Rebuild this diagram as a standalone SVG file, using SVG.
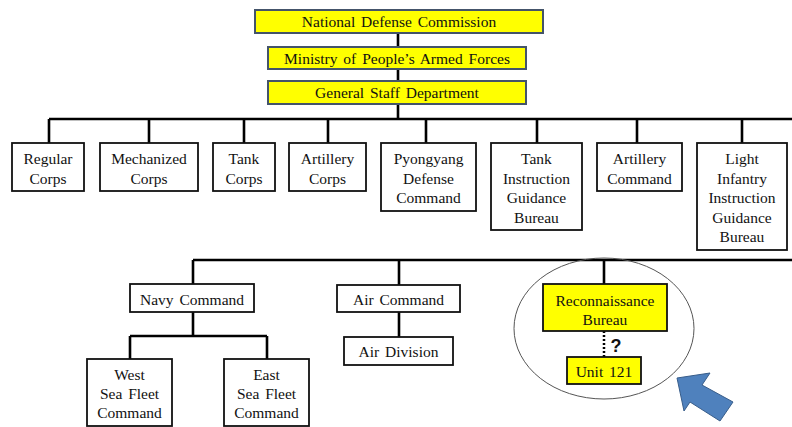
<svg xmlns="http://www.w3.org/2000/svg" width="792" height="427" viewBox="0 0 792 427">
<style>
.box{fill:#fff;stroke:#111;stroke-width:1.8}
.ybox{fill:#ffff00;stroke:#44546a;stroke-width:2}
.ybox2{fill:#ffff00;stroke:#111;stroke-width:1.8}
.ln{stroke:#000;stroke-width:2.6;fill:none}
</style>
<g id="connectors">
<path class="ln" d="M398 33V47M398 69V81M398 104V119M49 119H792M49 119V143M149 119V143M244 119V143M328 119V143M426 119V143M537 119V143M637 119V143M742 119V143"/>
<path class="ln" d="M193 260H792M193 260V284M399 260V285M604 260V284"/>
<path class="ln" d="M193 312V336M130 336H267M130 336V359M267 336V359M399 312V337"/>
<path d="M604 331V357" stroke="#000" stroke-width="2.5" stroke-dasharray="2,2"/>
</g>
<ellipse cx="604" cy="328.5" rx="90" ry="70.5" fill="none" stroke="#555" stroke-width="1"/>
<g font-family="Liberation Serif" font-size="15.5" fill="#111" text-anchor="middle" word-spacing="2">
<g id="ndc"><rect class="ybox" x="255" y="10" width="288" height="23"/><text x="399" y="27">National Defense Commission</text></g>
<g id="mpaf"><rect class="ybox" x="268" y="47" width="258" height="22"/><text x="397" y="63.5">Ministry of People’s Armed Forces</text></g>
<g id="gsd"><rect class="ybox" x="268" y="81" width="258" height="23"/><text x="397" y="98">General Staff Department</text></g>
<g id="regular"><rect class="box" x="12" y="143" width="72" height="48"/><text x="48" y="164">Regular</text><text x="48" y="183.5">Corps</text></g>
<g id="mechanized"><rect class="box" x="100" y="143" width="98" height="48"/><text x="149" y="164">Mechanized</text><text x="149" y="183.5">Corps</text></g>
<g id="tankcorps"><rect class="box" x="213" y="143" width="62" height="48"/><text x="244" y="164">Tank</text><text x="244" y="183.5">Corps</text></g>
<g id="artcorps"><rect class="box" x="289" y="143" width="77" height="48"/><text x="327.5" y="164">Artillery</text><text x="327.5" y="183.5">Corps</text></g>
<g id="pyongyang"><rect class="box" x="381" y="143" width="95" height="68"/><text x="428.5" y="164">Pyongyang</text><text x="428.5" y="183.5">Defense</text><text x="428.5" y="203">Command</text></g>
<g id="tigb"><rect class="box" x="491" y="143" width="91" height="87"/><text x="536.5" y="164">Tank</text><text x="536.5" y="183.5">Instruction</text><text x="536.5" y="203">Guidance</text><text x="536.5" y="222.5">Bureau</text></g>
<g id="artcmd"><rect class="box" x="597" y="143" width="85" height="48"/><text x="639.5" y="164">Artillery</text><text x="639.5" y="183.5">Command</text></g>
<g id="ligb"><rect class="box" x="697" y="143" width="90" height="107"/><text x="742" y="164">Light</text><text x="742" y="183.5">Infantry</text><text x="742" y="203">Instruction</text><text x="742" y="222.5">Guidance</text><text x="742" y="242">Bureau</text></g>
<g id="navy"><rect class="box" x="130" y="284" width="124" height="28"/><text x="192" y="304.5">Navy Command</text></g>
<g id="west"><rect class="box" x="87" y="359" width="85" height="67"/><text x="129.5" y="380">West</text><text x="129.5" y="399">Sea Fleet</text><text x="129.5" y="418">Command</text></g>
<g id="east"><rect class="box" x="224" y="359" width="85" height="67"/><text x="266.5" y="380">East</text><text x="266.5" y="399">Sea Fleet</text><text x="266.5" y="418">Command</text></g>
<g id="air"><rect class="box" x="337" y="285" width="123" height="27"/><text x="398.5" y="304.5">Air Command</text></g>
<g id="airdiv"><rect class="box" x="344" y="337" width="109" height="28"/><text x="398.5" y="356.5">Air Division</text></g>
<g id="recon"><rect class="ybox2" x="543" y="284" width="124" height="47"/><text x="605" y="305.5">Reconnaissance</text><text x="605" y="325">Bureau</text></g>
<g id="unit121"><rect class="ybox2" x="567" y="357" width="74" height="27"/><text x="604" y="376.5">Unit 121</text></g>
</g>
<text x="616" y="351.5" font-family="Liberation Sans" font-size="18" font-weight="bold" text-anchor="middle" fill="#111">?</text>
<polygon points="677,378 710,373 702,385 733,402 720,421 690,402 684,411" fill="#4f81bd" stroke="#385d8a" stroke-width="1"/>
</svg>
